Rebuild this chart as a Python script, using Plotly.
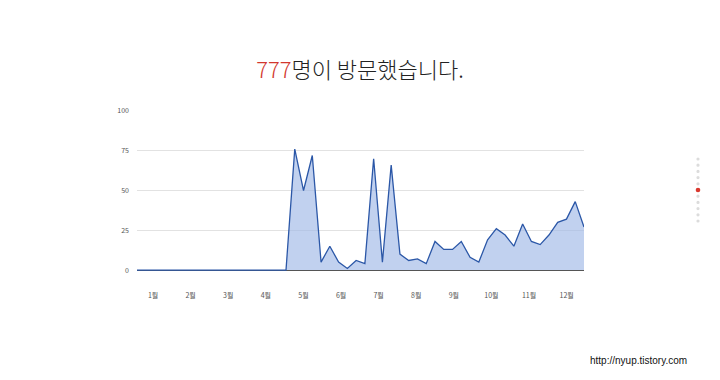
import plotly.graph_objects as go

# Weekly visitor counts (52 weeks)
visits = [0]*18 + [76, 50, 72, 5, 15, 5, 1, 6, 4, 70, 5, 66, 10, 6, 7, 4,
                   18, 13, 13, 18, 8, 5, 19, 26, 22, 15, 29, 18, 16, 22, 30, 32, 43, 27]
weeks = list(range(len(visits)))
month_labels = ["1월", "2월", "3월", "4월", "5월", "6월", "7월", "8월", "9월", "10월", "11월", "12월"]
y_ticks = [0, 25, 50, 75, 100]
total = 777

month_pos = [1.83 + 4.29 * k for k in range(len(month_labels))]

OFF = 8  # page body margin
W, H = 720, 380
# target pixel positions on screen
PL, PR, PT, PB = 137, 584, 111, 271
L, R, T, B = PL - OFF, W - (PR - OFF), PT - OFF, H - (PB - OFF)
pw, ph = W - L - R, H - T - B

def px(x):
    return (x - OFF - L) / pw

def py(y):
    return (H - B - (y - OFF)) / ph

fig = go.Figure()
fig.add_trace(go.Scatter(
    x=weeks, y=visits, mode="lines",
    line=dict(color="#2b57a7", width=1.3),
    fill="tozeroy", fillcolor="rgba(160,185,230,0.65)",
    hoverinfo="skip",
))

shapes = []
dot_ys = [159 + 6.2 * i for i in range(11)]
for i, yy in enumerate(dot_ys):
    r = 2.3 if i == 5 else 1.6
    col = "#d9392f" if i == 5 else "#dcdcdc"
    shapes.append(dict(type="circle", xref="paper", yref="paper",
                       x0=px(698 - r), x1=px(698 + r), y0=py(yy + r), y1=py(yy - r),
                       fillcolor=col, line=dict(width=0)))

fig.update_layout(
    width=W, height=H,
    margin=dict(l=L, r=R, t=T, b=B, pad=0),
    paper_bgcolor="white", plot_bgcolor="white",
    showlegend=False,
    font=dict(family="Noto Sans CJK KR, Roboto, sans-serif", color="#555", size=7),
    title=dict(
        text=f"<span style='color:#d2372e'>{total}</span>명이 방문했습니다.",
        x=0.5 - OFF / W, xanchor="center", y=(H - (70 - OFF)) / H, yanchor="middle",
        font=dict(family="Noto Sans CJK KR, sans-serif", size=22, color="#222", weight=300),
    ),
    xaxis=dict(range=[0, len(visits) - 1], tickvals=month_pos, ticktext=month_labels,
               showgrid=False, zeroline=False, showline=False, ticks="",
               ticklabelstandoff=19, tickfont=dict(size=7, color="#555")),
    yaxis=dict(range=[-0.6, 100], tickvals=y_ticks, showgrid=True, gridcolor="#e2e2e2",
               gridwidth=1, zeroline=True, zerolinecolor="#555", zerolinewidth=1,
               showline=False, ticks="",
               ticklabelstandoff=7, tickfont=dict(size=7, color="#555")),
    shapes=shapes,
    annotations=[dict(text="http://nyup.tistory.com", xref="paper", yref="paper",
                      x=px(689), y=py(360), xanchor="right", yanchor="middle",
                      showarrow=False,
                      font=dict(family="Liberation Sans, Arial, sans-serif", size=10, color="#111"))],
)

fig.write_html("out.html")
